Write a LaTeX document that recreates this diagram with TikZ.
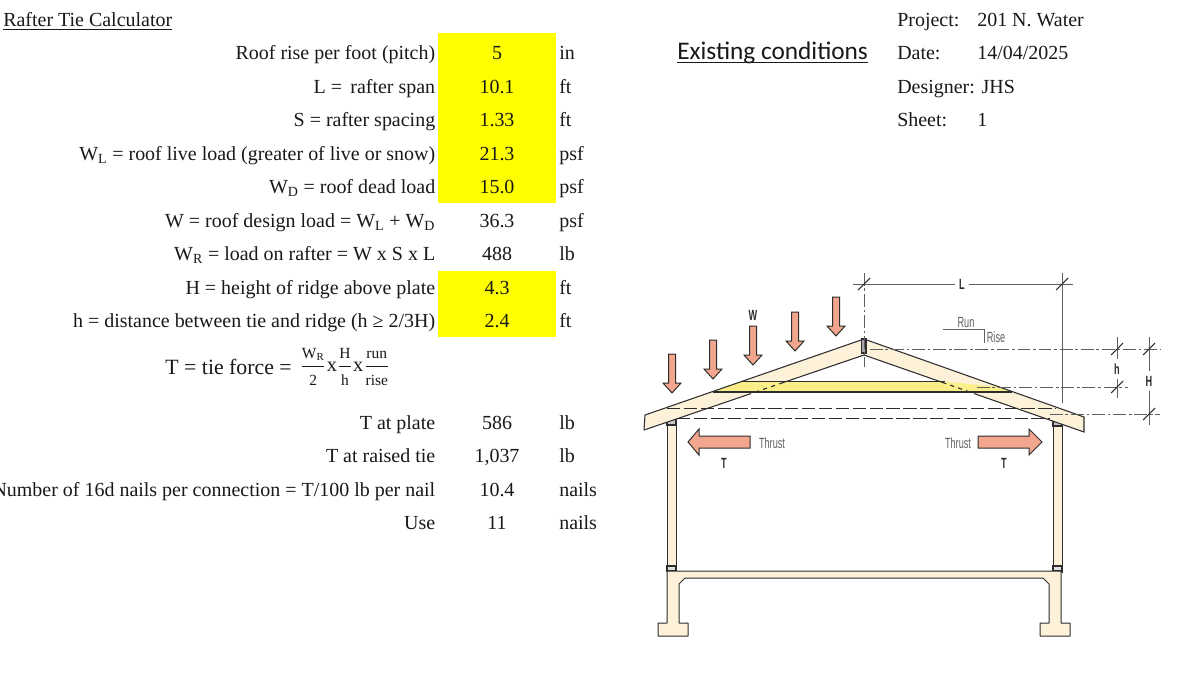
\documentclass[tikz,border=0pt]{standalone}
\usepackage{amsmath}
\usepackage{fontspec}
\setmainfont{Liberation Serif}
\newfontfamily\titlefont{Carlito}
\newfontfamily\drawfont[FakeStretch=0.62]{Liberation Sans}
\definecolor{CellYellow}{RGB}{255,255,0}
\definecolor{TimberColor}{RGB}{253,241,218}
\definecolor{TieColor}{RGB}{249,238,135}
\definecolor{LoadColor}{RGB}{242,166,142}
\definecolor{InkColor}{RGB}{45,45,45}
\definecolor{DimColor}{RGB}{95,95,95}
\definecolor{TextColor}{RGB}{25,25,25}
\usetikzlibrary{positioning}
\tikzstyle{cell} = [inner sep=0pt, text=TextColor, text height=12pt, text depth=3pt, font=\fontsize{14.2}{16}\selectfont]
\tikzstyle{label} = [cell, anchor=east]
\tikzstyle{value} = [cell, anchor=center]
\tikzstyle{unit} = [cell, anchor=west]
\tikzstyle{sketch} = [font=\drawfont\fontsize{10.5}{12}\selectfont, text=DimColor, inner sep=1pt]
\tikzstyle{sym} = [font=\drawfont\bfseries\fontsize{10.5}{12}\selectfont, text=InkColor, inner sep=3pt]
\tikzstyle{member} = [fill=TimberColor, draw=InkColor, line width=0.7pt, line join=round]
\tikzstyle{ink} = [draw=InkColor, line width=0.75pt]
\tikzstyle{load} = [fill=LoadColor, draw=InkColor, line width=0.7pt, line join=miter]
\tikzstyle{dim} = [draw=DimColor, line width=0.5pt]
\tikzstyle{center line} = [dim, dash pattern=on 9pt off 2pt on 2pt off 2pt]
\newcommand{\ratio}[2]{$\displaystyle\frac{\hbox{\fontsize{11}{13}\selectfont #1}}{\hbox{\fontsize{11}{13}\selectfont #2}}$}
\begin{document}
\begin{tikzpicture}[x=0.025cm, y=-0.025cm]
  \clip (0,0) rectangle (1200,673);
  \fill[white] (0,0) rectangle (1200,673);

  % Input cells
  \fill[CellYellow] (438,33) rectangle (556,203);
  \fill[CellYellow] (438,271) rectangle (556,337);

  % Header
  \node[cell, anchor=west] (title) at (3,20) {\underline{Rafter Tie Calculator}};
  \node[anchor=base west, inner sep=0pt, text=TextColor, font=\titlefont\fontsize{18}{20}\selectfont] (status) at (677,59) {\underline{\smash{Existing conditions}}};
  \node[unit] (project) at (897,20) {Project:};
  \node[unit] (projectval) at (977,20) {201 N. Water};
  \node[unit] (date) at (897,53) {Date:};
  \node[unit] (dateval) at (977,53) {14/04/2025};
  \node[unit] (designer) at (897,87) {Designer: JHS};
  \node[unit] (sheet) at (897,120) {Sheet:};
  \node[unit] (sheetval) at (977,120) {1};

  % Input rows
  \node[label] (pitch) at (435.5,53) {Roof rise per foot (pitch)};
  \node[value] (pitchval) at (497,53) {5};
  \node[unit] (pitchunit) at (559,53) {in};
  \node[label] (span) at (435.5,87) {L = \,rafter span};
  \node[value] (spanval) at (497,87) {10.1};
  \node[unit] (spanunit) at (559,87) {ft};
  \node[label] (spacing) at (435.5,120) {S = rafter spacing};
  \node[value] (spacingval) at (497,120) {1.33};
  \node[unit] (spacingunit) at (559,120) {ft};
  \node[label] (live) at (435.5,154) {W\textsubscript{L} = roof live load (greater of live or snow)};
  \node[value] (liveval) at (497,154) {21.3};
  \node[unit] (liveunit) at (559,154) {psf};
  \node[label] (dead) at (435.5,187) {W\textsubscript{D} = roof dead load};
  \node[value] (deadval) at (497,187) {15.0};
  \node[unit] (deadunit) at (559,187) {psf};
  \node[label] (design) at (435.5,221) {W = roof design load = W\textsubscript{L} + W\textsubscript{D}};
  \node[value] (designval) at (497,221) {36.3};
  \node[unit] (designunit) at (559,221) {psf};
  \node[label] (rafter) at (435.5,254) {W\textsubscript{R} = load on rafter = W x S x L};
  \node[value] (rafterval) at (497,254) {488};
  \node[unit] (rafterunit) at (559,254) {lb};
  \node[label] (ridge) at (435.5,288) {H = height of ridge above plate};
  \node[value] (ridgeval) at (497,288) {4.3};
  \node[unit] (ridgeunit) at (559,288) {ft};
  \node[label] (tiedist) at (435.5,321) {h = distance between tie and ridge (h ≥ 2/3H)};
  \node[value] (tiedistval) at (497,321) {2.4};
  \node[unit] (tiedistunit) at (559,321) {ft};

  % Tie force formula
  \node[label, font=\fontsize{15.5}{18}\selectfont] (force) at (292,368) {T = tie force =};
  \node[inner sep=0pt, text=TextColor, anchor=west, font=\fontsize{14.5}{16}\selectfont] (formula) at (300,367) {\ratio{W\textsubscript{R}}{2}\kern0.5pt x\kern0.5pt\ratio{H}{h}\kern0.5pt x\kern0.5pt\ratio{run}{rise}};

  % Results
  \node[label] (plate) at (435.5,423) {T at plate};
  \node[value] (plateval) at (497,423) {586};
  \node[unit] (plateunit) at (559,423) {lb};
  \node[label] (raised) at (435.5,456) {T at raised tie};
  \node[value] (raisedval) at (497,456) {1,037};
  \node[unit] (raisedunit) at (559,456) {lb};
  \node[label] (nails) at (435.5,490) {Number of 16d nails per connection = T/100 lb per nail};
  \node[value] (nailsval) at (497,490) {10.4};
  \node[unit] (nailsunit) at (559,490) {nails};
  \node[label] (use) at (435.5,523) {Use};
  \node[value] (useval) at (497,523) {11};
  \node[unit] (useunit) at (559,523) {nails};

  % Walls
  \draw[member] (667,418) rectangle (676,572);
  \draw[member] (1053,420) rectangle (1062,572);
  \draw[ink, fill=DimColor!35] (667,419) rectangle (676,425);
  \draw[ink, fill=DimColor!35] (1053,421) rectangle (1062,426);
  \draw[ink, fill=DimColor!20] (667,566) rectangle (676,571);
  \draw[ink, fill=DimColor!20] (1053,566) rectangle (1062,571);

  % Floor and footings
  \draw[member] (667,571) -- (1061,571) -- (1061,623) -- (1070,623) -- (1070,636) -- (1040,636) -- (1040,623) -- (1049,623) -- (1049,584) -- (1043,578) -- (685,578) -- (679,584) -- (679,623) -- (688,623) -- (688,636) -- (658,636) -- (658,623) -- (667,623) -- cycle;

  % Rafters
  \coordinate (apex) at (864,339);
  \coordinate (apexlow) at (864,355);
  \fill[TimberColor] (apex) -- (645,415) -- (644,430) -- (apexlow) -- cycle;
  \fill[TimberColor] (apex) -- (1084,417) -- (1084,432) -- (apexlow) -- cycle;

  % Raised tie
  \fill[TieColor] (713,392) -- (741,381.5) -- (943,381.5) -- (1000,387) -- (1012,392) -- cycle;
  \draw[ink] (741,381.5) -- (945,381.5);
  \draw[ink] (713,392) -- (1012,392);

  % Rafter outlines
  \draw[ink] (644,430) -- (645,415) -- (apex) -- (1084,417) -- (1084,432) -- (978,394.9);
  \draw[ink] (943,382.6) -- (apexlow) -- (783,382.6);
  \draw[ink] (750,393.9) -- (644,430);
  \draw[ink, dashed] (978,394.9) -- (943,382.6) (783,382.6) -- (750,393.9);
  \draw[ink, fill=DimColor!55] (861.5,339) rectangle (866,353);

  % Plate level dashes
  \draw[ink, line width=0.6pt, dash pattern=on 9.5pt off 2.5pt] (667,408) -- (1056,408);
  \draw[ink, line width=0.6pt, dash pattern=on 9.5pt off 2.5pt] (677,418) -- (1050,418);

  % Loads
  \foreach \x/\y in {672/354, 713/340, 753/326, 795/312, 836/297}
    \draw[load] (\x-3.5,\y) -- (\x+3.5,\y) -- (\x+3.5,\y+29) -- (\x+9,\y+29) -- (\x,\y+39) -- (\x-9,\y+29) -- (\x-3.5,\y+29) -- cycle;
  \draw[load] (750,436) -- (699,436) -- (699,429) -- (688,442) -- (699,455) -- (699,448) -- (750,448) -- cycle;
  \draw[load] (978,436) -- (1029,436) -- (1029,429) -- (1042,442) -- (1029,455) -- (1029,448) -- (978,448) -- cycle;

  % Drawing labels
  \node[sketch] (thrustl) at (772,443) {Thrust};
  \node[sketch] (thrustr) at (958,443) {Thrust};
  \node[sym] (tl) at (724,463) {T};
  \node[sym] (tr) at (1004,463) {T};
  \node[sym] (w) at (753,315) {W};
  \node[sketch] (run) at (966,322) {Run};
  \node[sketch] (rise) at (996,337) {Rise};
  \coordinate (stepa) at (943,329);
  \coordinate (stepb) at (984,329);
  \coordinate (stepc) at (984,343);
  \draw[dim] (stepa) -- (stepb) -- (stepc);

  % Dimensions
  \coordinate (spana) at (864,284);
  \coordinate (spanb) at (1062,284);
  \coordinate (htop) at (1117,349);
  \coordinate (hlow) at (1117,387);
  \coordinate (ridgetop) at (1149,349);
  \coordinate (ridgelow) at (1149,414);
  \node[sym] (lbll) at (962,284) {L};
  \node[sym] (lblh) at (1117,369) {h};
  \node[sym] (lblr) at (1149,381) {H};
  \draw[dim] (853,284) -- (lbll) -- (1073,284);
  \draw[dim] (1062,273) -- (1062,403);
  \draw[center line] (864,273) -- (864,367);
  \draw[center line] (870,349) -- (1160,349);
  \draw[center line] (977,387) -- (1128,387);
  \draw[center line] (1050,414) -- (1160,414);
  \draw[dim] (1117,337) -- (lblh) -- (1117,398);
  \draw[dim] (1149,337) -- (lblr) -- (1149,425);
  \foreach \pt in {spana, spanb, htop, hlow, ridgetop, ridgelow}
    \draw[ink] (\pt) ++(-6,6) -- ++(12,-12);
\end{tikzpicture}
\end{document}
